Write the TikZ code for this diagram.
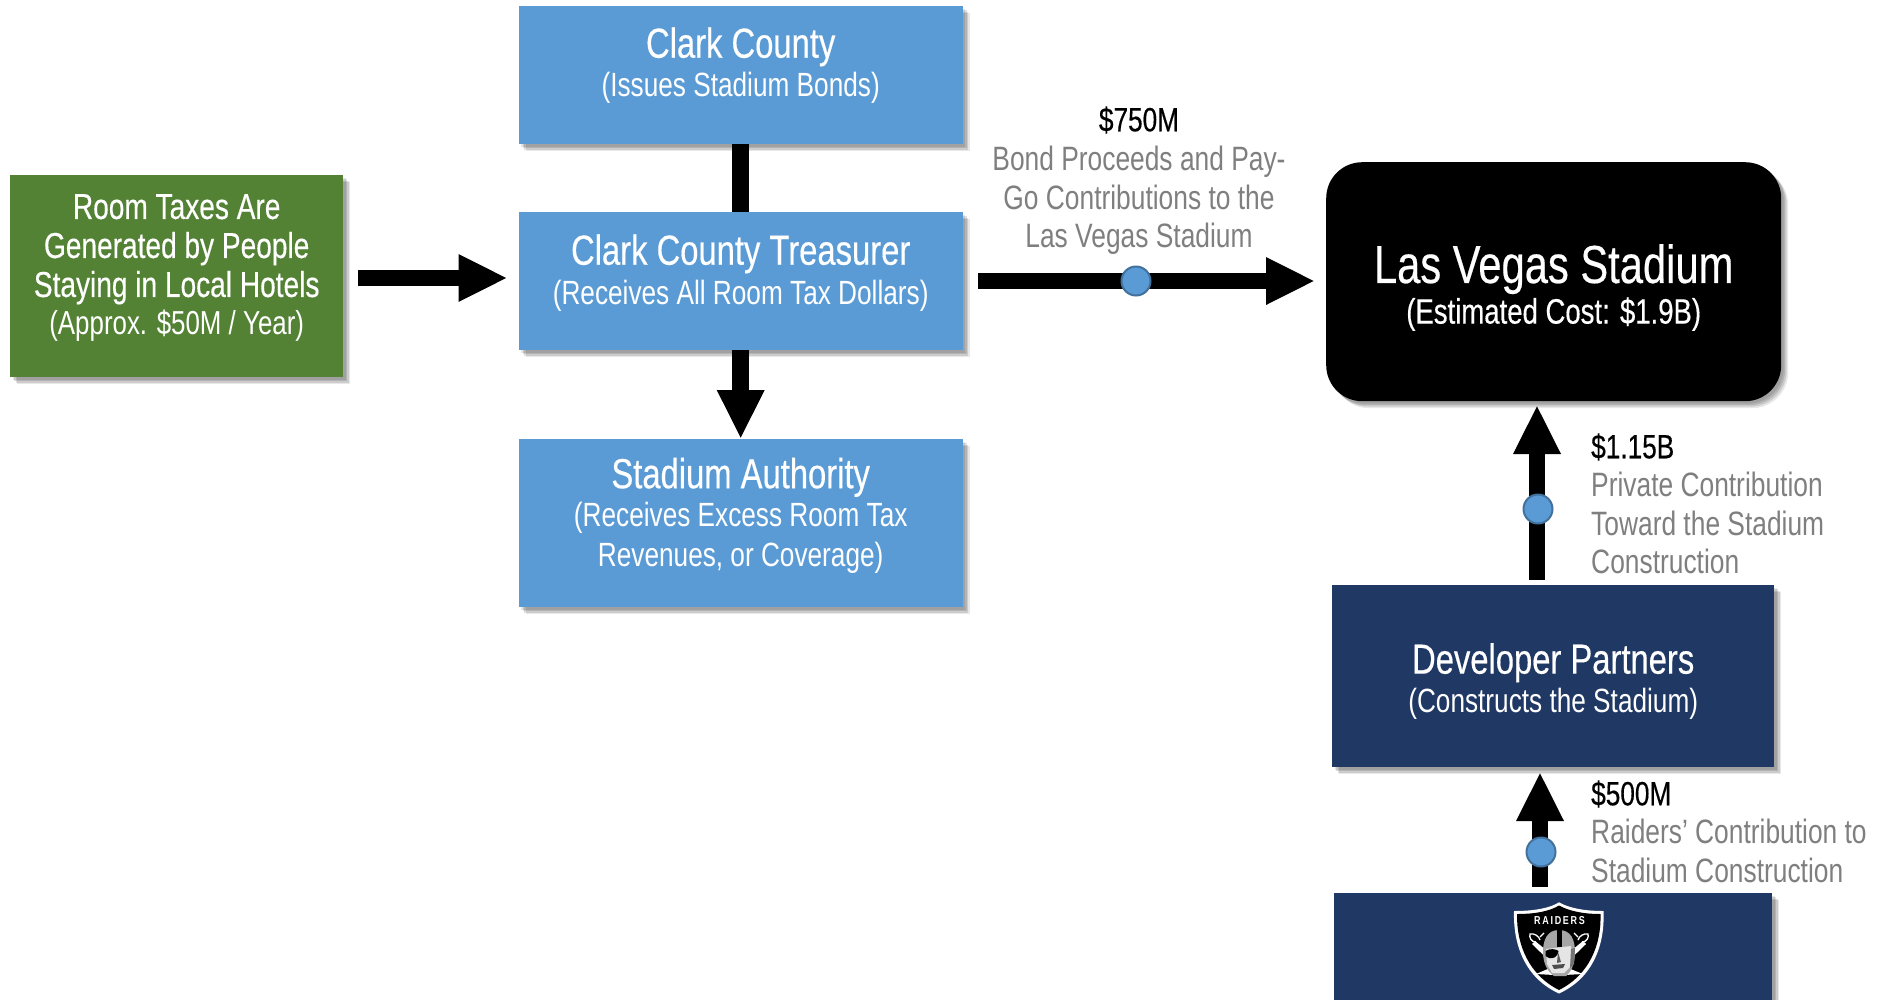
\documentclass[tikz,border=0pt]{standalone}
\usepackage{fontspec}
\setmainfont[FakeStretch=0.78]{Liberation Sans}
\newfontfamily\heavyfont[FakeStretch=0.78,FakeBold=0.35]{Liberation Sans}
\usetikzlibrary{arrows.meta,shadows}
\definecolor{bluebox}{HTML}{5B9BD5}
\definecolor{bluedge}{HTML}{41719C}
\definecolor{greenbox}{HTML}{548235}
\definecolor{navybox}{HTML}{203864}
\definecolor{graytxt}{HTML}{7F7F7F}
\newcommand{\ftitle}{\heavyfont\fontsize{42}{42}\selectfont}
\newcommand{\fsub}{\fontsize{33.6}{39}\selectfont}
\newcommand{\fbig}{\heavyfont\fontsize{53.5}{53}\selectfont}
\newcommand{\fcost}{\heavyfont\fontsize{35.3}{39}\selectfont}
\newcommand{\fgrn}{\heavyfont\fontsize{36}{39}\selectfont}
\newcommand{\fgrs}{\fontsize{33.2}{39}\selectfont}
% one line of text with a fixed height and depth, so that line pitch is exact
\newcommand{\Ln}[4]{#1\baselineskip=0pt\lineskip=0pt\lineskiplimit=16000pt\rule[-#3pt]{0pt}{\dimexpr#2pt+#3pt\relax}#4}
\tikzset{
  x=1pt,y=-1pt,
  softshadow/.style={
    drop shadow={shadow xshift=2.5pt,shadow yshift=-2.5pt,fill=black,opacity=.10},
    drop shadow={shadow xshift=4pt,shadow yshift=-4pt,fill=black,opacity=.12},
    drop shadow={shadow xshift=5.5pt,shadow yshift=-5.5pt,fill=black,opacity=.12},
    drop shadow={shadow xshift=7pt,shadow yshift=-7pt,fill=black,opacity=.09}},
  box/.style={rectangle,inner sep=0pt,align=center,text=white,softshadow},
  bluecard/.style={box,fill=bluebox,minimum width=444,anchor=north west},
  navycard/.style={box,fill=navybox,anchor=north west},
  flow/.style={line width=16.5pt,-{Triangle[length=49pt,width=44pt]}},
  plainflow/.style={line width=16.5pt},
  dot/.style={circle,fill=bluebox,draw=bluedge,line width=2pt,minimum size=29pt,inner sep=0pt},
  amount/.style={text=black,font=\heavyfont\fontsize{33.6}{38}\selectfont,inner sep=0pt},
  gloss/.style={text=graytxt,font=\fontsize{33.8}{38.5}\selectfont,inner sep=0pt},
}
\begin{document}
\begin{tikzpicture}
\useasboundingbox (0,0) rectangle (1877,999);
% boxes
\node[box,fill=greenbox,minimum width=333,minimum height=202,anchor=north west] (green) at (10,175)
  {\Ln{\fgrn}{30}{10}{Room Taxes Are}\\ \Ln{\fgrn}{28}{10}{Generated by People}\\ \Ln{\fgrn}{28}{10}{Staying in Local Hotels}\\ \Ln{\fgrs}{27}{28.5}{(Approx. \$50M / Year)}};
\node[bluecard,minimum height=138] (clark) at (518.5,6)
  {\Ln{\ftitle}{38}{10}{Clark County}\\ \Ln{\fsub}{28}{34}{(Issues Stadium Bonds)}};
\node[bluecard,minimum height=138] (treas) at (518.5,212)
  {\Ln{\ftitle}{38}{10}{Clark County Treasurer}\\ \Ln{\fsub}{29}{31}{(Receives All Room Tax Dollars)}};
\node[bluecard,minimum height=168] (auth) at (518.5,439)
  {\Ln{\ftitle}{38}{10}{Stadium Authority}\\ \Ln{\fsub}{27}{10}{(Receives Excess Room Tax}\\ \Ln{\fsub}{29}{30}{Revenues, or Coverage)}};
\node[rectangle,rounded corners=36pt,fill=black,text=white,inner sep=0pt,align=center,minimum width=455,minimum height=239,anchor=north west,softshadow] (stadium) at (1326,162)
  {\Ln{\fbig}{50.5}{10}{Las Vegas Stadium}\\ \Ln{\fcost}{28.5}{2}{(Estimated Cost: \$1.9B)}};
\node[navycard,minimum width=442,minimum height=182] (dev) at (1332,585)
  {\Ln{\ftitle}{40.6}{10}{Developer Partners}\\ \Ln{\fsub}{27.8}{4}{(Constructs the Stadium)}};
\node[navycard,minimum width=438,minimum height=120] (raiders) at (1334,893) {};
% connectors
\coordinate (g1) at (358,278);
\coordinate (t1) at (507.5,278);
\coordinate (t2) at (978,281);
\coordinate (s1) at (1315,281);
\coordinate (d1) at (1537,580);
\coordinate (s2) at (1537,405);
\coordinate (r1) at (1540,887);
\coordinate (d2) at (1540,772);
\draw[plainflow] (clark.south) -- (treas.north);
\draw[flow] (treas.south) -- (auth.north);
\draw[flow] (g1) -- (t1);
\draw[flow] (t2) -- (s1);
\draw[flow] (d1) -- (s2);
\draw[flow] (r1) -- (d2);
\node[dot] (dotA) at (1136,281) {};
\node[dot] (dotB) at (1538,509) {};
\node[dot] (dotC) at (1541,852) {};
% labels
\node[amount] (amtA) at (1139,120) {\$750M};
\node[gloss,align=center,anchor=north] (glossA) at (1139,146) {Bond Proceeds and Pay-\\Go Contributions to the\\Las Vegas Stadium};
\node[amount,anchor=west] (amtB) at (1591,447) {\$1.15B};
\node[gloss,align=left,anchor=north west] (glossB) at (1591,472) {Private Contribution\\Toward the Stadium\\Construction};
\node[amount,anchor=west] (amtC) at (1591,794) {\$500M};
\node[gloss,align=left,anchor=north west] (glossC) at (1591,819) {Raiders’ Contribution to\\Stadium Construction};
% logo: shield
\fill[white] (1559,902.3) .. controls (1550,908) and (1535,911) .. (1514,911)
  .. controls (1513,945) and (1525,978) .. (1559,993.5)
  .. controls (1593,978) and (1605,945) .. (1603.5,911)
  .. controls (1584,911) and (1569,908) .. (1559,902.3) -- cycle;
\fill[black] (1559,905.5) .. controls (1550,911) and (1536,914) .. (1517,914)
  .. controls (1516.5,945) and (1529,975) .. (1559,990)
  .. controls (1589,975) and (1601.5,945) .. (1600.5,914)
  .. controls (1583,914) and (1569,911) .. (1559,905.5) -- cycle;
% logo: swords
\fill[white] (1532,944) -- (1535,941) -- (1568,968) -- (1583,974) -- (1564,975) -- cycle;
\fill[white] (1586,944) -- (1583,941) -- (1550,968) -- (1536,974) -- (1554,975) -- cycle;
\draw[white,line width=1.3pt] (1536,942) .. controls (1531,942) and (1529,937) .. (1530,934) .. controls (1534,933) and (1539,936) .. (1540,940);
\draw[white,line width=1.3pt] (1582,942) .. controls (1587,942) and (1589,937) .. (1588,934) .. controls (1584,933) and (1579,936) .. (1578,940);
\draw[white,line width=1.2pt] (1540,937) -- (1544,933);
\draw[white,line width=1.2pt] (1578,937) -- (1574,933);
% logo: helmet
\fill[black!35] (1559,930) .. controls (1547,930) and (1543,940) .. (1543,952)
  .. controls (1543,964) and (1548,972) .. (1554,976) -- (1566,976)
  .. controls (1571,972) and (1575,964) .. (1575,952)
  .. controls (1575,940) and (1571,930) .. (1559,930) -- cycle;
\fill[black] (1556.5,930) rectangle (1561.5,947);
\fill[black!10] (1546,949) -- (1571,946) -- (1571,966) -- (1564,973) -- (1552,973) -- (1547,964) -- cycle;
\fill[black] (1545.5,951) .. controls (1550,948) and (1556,949) .. (1558.5,951) .. controls (1558,957) and (1553,959) .. (1549,958) -- (1545.5,956) -- cycle;
\fill[black!65] (1558,952) -- (1561,962) -- (1557,963) -- cycle;
\fill[black!70] (1552,965) -- (1565,964) -- (1563,968) -- (1554,969) -- cycle;
\fill[black!55] (1571,949) -- (1575,948) -- (1574,964) -- (1570,968) -- cycle;
\node[inner sep=0pt,text=white] (logotext) at (1559.5,921) {\fontsize{11.5}{11.5}\selectfont\bfseries R\hspace{1.7pt}A\hspace{1.7pt}I\hspace{1.7pt}D\hspace{1.7pt}E\hspace{1.7pt}R\hspace{1.7pt}S};
\end{tikzpicture}
\end{document}
